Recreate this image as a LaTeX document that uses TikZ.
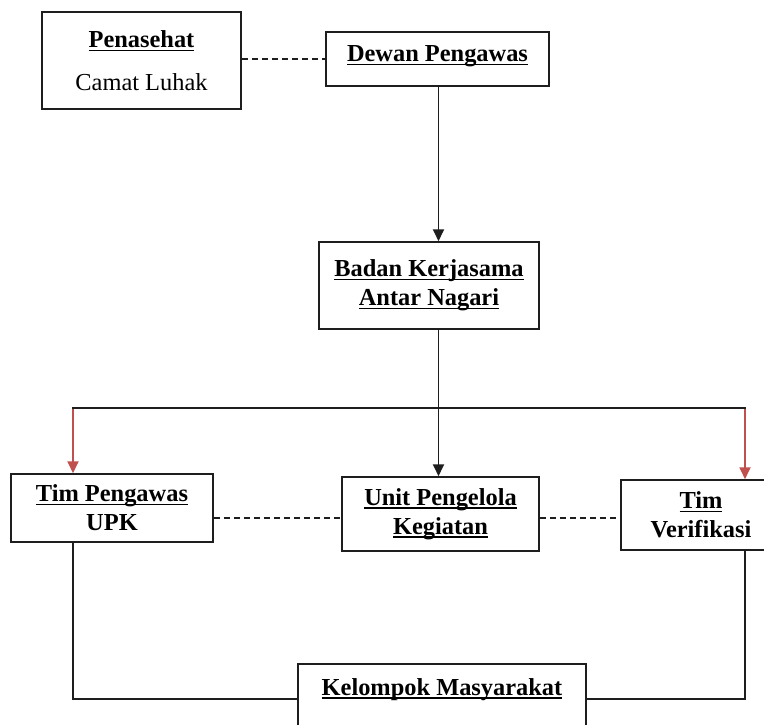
\documentclass[tikz,border=0pt]{standalone}
\usepackage{fontspec}
\setmainfont{Liberation Serif}
\usetikzlibrary{arrows.meta,calc}
\newsavebox\ulbox
\newcommand\ulx[1]{\sbox\ulbox{#1}\rlap{\rule[-3.5pt]{\wd\ulbox}{1.3pt}}\usebox\ulbox}
\definecolor{linegray}{RGB}{30,30,30}
\definecolor{arrowred}{RGB}{192,80,77}
\begin{document}
\begin{tikzpicture}[x=1pt,y=-1pt,
  box/.style={draw=linegray, line width=1.5pt, rectangle, align=center, inner sep=0pt,
    font=\fontsize{24.4}{29}\selectfont\bfseries},
  conn/.style={draw=linegray, line width=1.8pt},
  dashconn/.style={conn, dash pattern=on 6pt off 4pt},
  tip/.style={-{Triangle[length=12pt,width=11pt]}},
  redconn/.style={draw=arrowred, line width=1.8pt, -{Triangle[length=12pt,width=11pt]}}]
\useasboundingbox (0,0) rectangle (764,725);
\clip (0,0) rectangle (764,725);
\fill[white] (0,0) rectangle (764,725);

\node[box, minimum width=199pt, minimum height=97pt] (pen) at (141.5,60.5)
  {\ulx{Penasehat}\\[14pt]\mdseries Camat Luhak};
\node[box, minimum width=223pt, minimum height=54pt, text height=16pt, text depth=11pt] (dew) at (437.5,59)
  {\ulx{Dewan Pengawas}};
\node[box, minimum width=220pt, minimum height=87pt] (bad) at (429,285.5)
  {\ulx{Badan Kerjasama}\\\ulx{Antar Nagari}};
\node[box, minimum width=202pt, minimum height=68pt] (tp) at (112,508)
  {\ulx{Tim Pengawas}\\UPK};
\node[box, minimum width=197pt, minimum height=74pt] (upk) at (440.5,514)
  {\ulx{Unit Pengelola}\\\ulx{Kegiatan}};
\node[box, minimum width=160pt, minimum height=70pt] (tv) at (701,515)
  {\ulx{Tim}\\Verifikasi};
\node[box, minimum width=288pt, minimum height=76pt, text height=17pt, text depth=31pt] (kel) at (442,702)
  {\ulx{Kelompok Masyarakat}};

\coordinate (jl) at (73,408);
\coordinate (jr) at (745,408);
\coordinate (spine) at (438.5,0);
\coordinate (dy) at (0,518);
\coordinate (by) at (0,699);

\draw[dashconn] (pen.east |- dew.west) -- (dew.west);
\draw[conn,tip] (dew.south -| spine) -- (bad.north -| spine);
\draw[conn,tip] (bad.south -| spine) -- (upk.north -| spine);
\draw[redconn] (jl) -- (jl |- tp.north);
\draw[redconn] (jr) -- (jr |- tv.north);
\draw[conn, line cap=rect] (jl) -- (jr);
\draw[dashconn] (tp.east |- dy) -- (upk.west |- dy);
\draw[dashconn] (upk.east |- dy) -- (tv.west |- dy);
\draw[conn] (jl |- tp.south) -- (jl |- by) -- (kel.west |- by);
\draw[conn] (jr |- tv.south) -- (jr |- by) -- (kel.east |- by);
\end{tikzpicture}
\end{document}
